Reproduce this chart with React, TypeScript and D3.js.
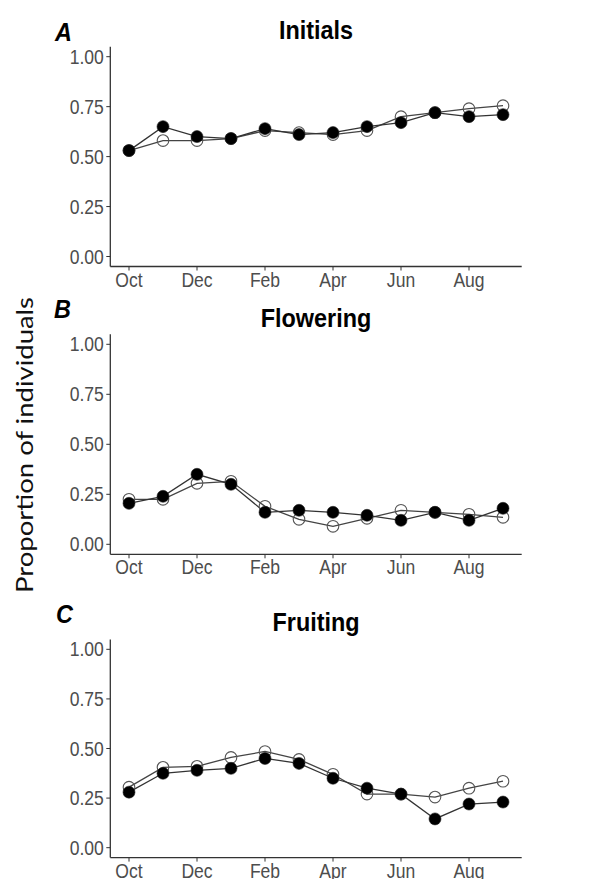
import React from "react";
import * as d3 from "d3";

const months = ["Oct", "Nov", "Dec", "Jan", "Feb", "Mar", "Apr", "May", "Jun", "Jul", "Aug", "Sep"];
const xTickMonths = ["Oct", "Dec", "Feb", "Apr", "Jun", "Aug"];
const yTicks = [0, 0.25, 0.5, 0.75, 1];

const panelLetters = ["A", "B", "C"];
const panelTitles = ["Initials", "Flowering", "Fruiting"];

const initialsFilled = [0.53, 0.65, 0.60, 0.59, 0.64, 0.61, 0.62, 0.65, 0.67, 0.72, 0.70, 0.71];
const initialsOpen = [0.53, 0.58, 0.58, 0.59, 0.63, 0.62, 0.61, 0.63, 0.70, 0.72, 0.74, 0.755];
const floweringFilled = [0.205, 0.24, 0.35, 0.30, 0.16, 0.17, 0.16, 0.145, 0.12, 0.16, 0.12, 0.18];
const floweringOpen = [0.225, 0.225, 0.305, 0.315, 0.19, 0.125, 0.09, 0.13, 0.17, 0.16, 0.15, 0.135];
const fruitingFilled = [0.28, 0.375, 0.39, 0.40, 0.45, 0.425, 0.35, 0.30, 0.27, 0.145, 0.22, 0.23];
const fruitingOpen = [0.305, 0.405, 0.41, 0.455, 0.485, 0.445, 0.37, 0.27, 0.27, 0.255, 0.30, 0.335];

const filledSeries = [initialsFilled, floweringFilled, fruitingFilled];
const openSeries = [initialsOpen, floweringOpen, fruitingOpen];

// layout (not data)
const W = 600;
const H = 879;
const panelLeft = 110.3;
const panelRight = 521.7;
const panels = [
  { top: 46.7, bottom: 266.5, titleY: 39.3, letterX: 55, letterY: 40.7 },
  { top: 334.3, bottom: 554.3, titleY: 326.7, letterX: 54, letterY: 318.3 },
  { top: 639.4, bottom: 857.6, titleY: 630.7, letterX: 56, letterY: 622.5 },
];
const SX = 0.9; // horizontal text compression seen in the reference

const axisColor = "#333333";
const tickTextColor = "#4d4d4d";
const sans = "'Liberation Sans', Arial, sans-serif";

function Panel({ idx }: { idx: number }) {
  const p = panels[idx];
  const x = d3.scaleLinear().domain([-0.55, months.length - 1 + 0.55]).range([panelLeft, panelRight]);
  const y = d3.scaleLinear().domain([-0.05, 1.05]).range([p.bottom, p.top]);
  const line = d3
    .line<number>()
    .x((_, i) => x(i))
    .y((d) => y(d));
  const filled = filledSeries[idx];
  const open = openSeries[idx];
  const fmt = d3.format(".2f");
  return (
    <g>
      {/* title */}
      <text
        transform={`translate(${(panelLeft + panelRight) / 2},${p.titleY}) scale(${SX},1)`}
        textAnchor="middle"
        fontFamily={sans}
        fontWeight="bold"
        fontSize={26}
        fill="#000"
      >
        {panelTitles[idx]}
      </text>
      <text
        transform={`translate(${p.letterX},${p.letterY}) scale(${SX},1)`}
        fontFamily={sans}
        fontWeight="bold"
        fontStyle="italic"
        fontSize={26}
        fill="#000"
      >
        {panelLetters[idx]}
      </text>
      {/* y ticks */}
      {yTicks.map((t) => (
        <g key={"y" + t}>
          <line x1={panelLeft - 4} x2={panelLeft} y1={y(t)} y2={y(t)} stroke={axisColor} strokeWidth={1} />
          <text
            transform={`translate(${panelLeft - 6.5},${y(t) + 7}) scale(${SX},1)`}
            textAnchor="end"
            fontFamily={sans}
            fontSize={19.5}
            fill={tickTextColor}
          >
            {fmt(t)}
          </text>
        </g>
      ))}
      {/* x ticks */}
      {xTickMonths.map((m) => {
        const i = months.indexOf(m);
        return (
          <g key={"x" + m}>
            <line x1={x(i)} x2={x(i)} y1={p.bottom} y2={p.bottom + 4} stroke={axisColor} strokeWidth={1} />
            <text
              transform={`translate(${x(i)},${p.bottom + 20}) scale(${SX},1)`}
              textAnchor="middle"
              fontFamily={sans}
              fontSize={19.5}
              fill={tickTextColor}
            >
              {m}
            </text>
          </g>
        );
      })}
      {/* axes */}
      <line x1={panelLeft} x2={panelLeft} y1={p.top} y2={p.bottom} stroke={axisColor} strokeWidth={1.3} />
      <line x1={panelLeft} x2={panelRight} y1={p.bottom} y2={p.bottom} stroke={axisColor} strokeWidth={1.3} />
      {/* lines */}
      <path d={line(open) || ""} fill="none" stroke="#444" strokeWidth={1.3} />
      <path d={line(filled) || ""} fill="none" stroke="#333" strokeWidth={1.3} />
      {/* points */}
      {open.map((v, i) => (
        <circle key={"o" + i} cx={x(i)} cy={y(v)} r={5.8} fill="none" stroke="#555" strokeWidth={1.1} />
      ))}
      {filled.map((v, i) => (
        <circle key={"f" + i} cx={x(i)} cy={y(v)} r={6} fill="#000" stroke="#222" strokeWidth={0.6} />
      ))}
    </g>
  );
}

export default function App() {
  return (
    <svg
      width={W}
      height={H}
      viewBox={`0 0 ${W} ${H}`}
      style={{ position: "absolute", left: 0, top: 0, background: "#fff" }}
    >
      <rect x={0} y={0} width={W} height={H} fill="#fff" />
      <text
        transform={`translate(33,445) scale(${SX},1) rotate(-90)`}
        textAnchor="middle"
        fontFamily="Lato, 'Open Sans', sans-serif"
        fontSize={26}
        textLength={296}
        lengthAdjust="spacingAndGlyphs"
        fill="#111"
      >
        Proportion of individuals
      </text>
      {panels.map((_, i) => (
        <Panel key={i} idx={i} />
      ))}
    </svg>
  );
}
